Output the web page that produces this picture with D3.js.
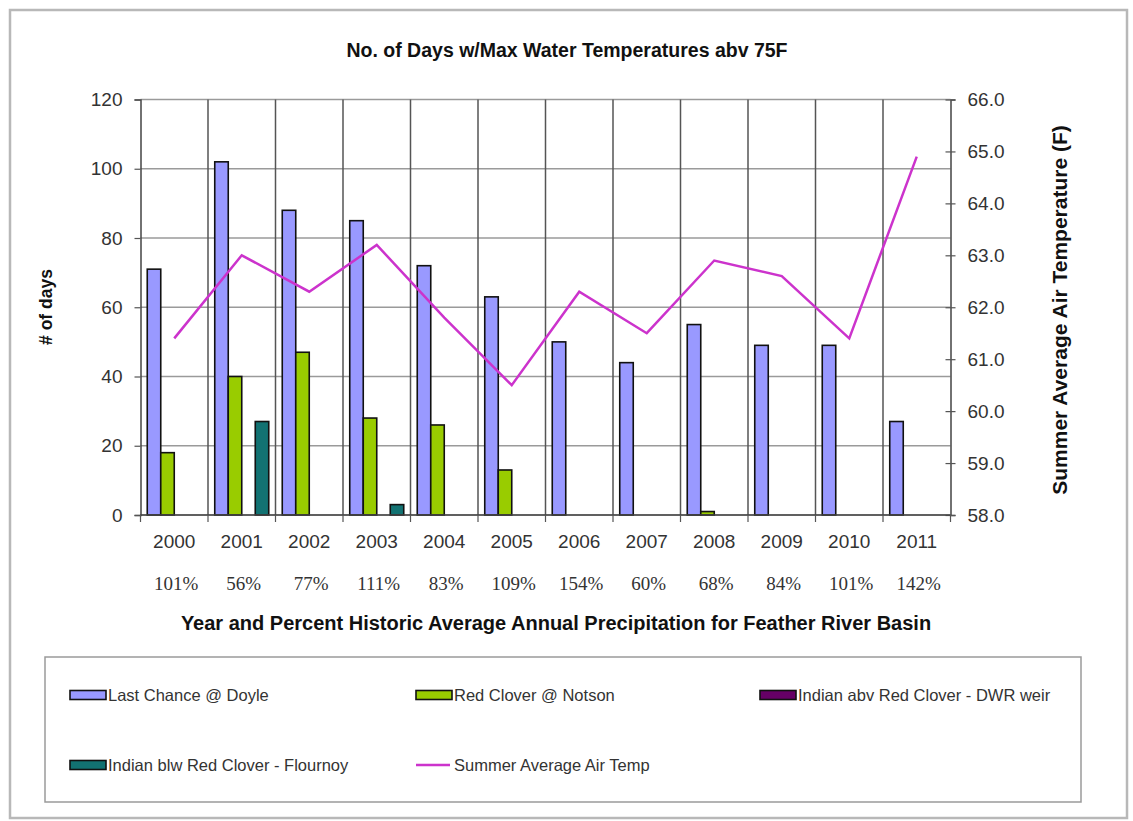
<!DOCTYPE html>
<html>
<head>
<meta charset="utf-8">
<script src="https://cdn.jsdelivr.net/npm/d3@7"></script>
<style>
  html, body { margin: 0; padding: 0; background: #fff; }
  svg { display: block; font-family: "Liberation Sans", Arial, sans-serif; }
</style>
</head>
<body>
<svg id="chart" width="1133" height="821"></svg>
<script>
// ---- data ----
const years = ["2000","2001","2002","2003","2004","2005","2006","2007","2008","2009","2010","2011"];
const precipPct = ["101%","56%","77%","111%","83%","109%","154%","60%","68%","84%","101%","142%"];
const lastChance = [71, 102, 88, 85, 72, 63, 50, 44, 55, 49, 49, 27];
const redClover = [18, 40, 47, 28, 26, 13, 0, 0, 1, 0, 0, 0];
const indianAbv = [0, 0, 0, 0, 0, 0, 0, 0, 0, 0, 0, 0];
const indianBlw = [0, 27, 0, 3, 0, 0, 0, 0, 0, 0, 0, 0];
const airTemp = [61.4, 63.0, 62.3, 63.2, 61.8, 60.5, 62.3, 61.5, 62.9, 62.6, 61.4, 64.9];
const leftTicks = [0, 20, 40, 60, 80, 100, 120];
const rightTicks = [58, 59, 60, 61, 62, 63, 64, 65, 66];
const seriesNames = ["Last Chance @ Doyle", "Red Clover @ Notson", "Indian abv Red Clover - DWR weir", "Indian blw Red Clover - Flournoy"];
const seriesColors = ["#9999ff", "#99cc00", "#660066", "#127272"];
const lineName = "Summer Average Air Temp";
const lineColor = "#cc33cc";

const barSeries = [lastChance, redClover, indianAbv, indianBlw];

// ---- layout ----
const svg = d3.select("#chart");
const L = 140.5, R = 950.5, T = 99.5, B = 515;

// outer frame
svg.append("rect").attr("x", 10).attr("y", 10).attr("width", 1117).attr("height", 808)
  .attr("fill", "#fff").attr("stroke", "#b8b8b8").attr("stroke-width", 2.5);

const x = d3.scaleBand().domain(years).range([L, R]).paddingInner(0).paddingOuter(0);
const xs = d3.scaleBand().domain(d3.range(barSeries.length)).range([0, x.bandwidth()]).paddingInner(0).paddingOuter(0.5);
const yL = d3.scaleLinear().domain([0, 120]).range([B, T]);
const yR = d3.scaleLinear().domain([58, 66]).range([B, T]);

// horizontal gridlines
svg.append("g").selectAll("line").data(leftTicks).join("line")
  .attr("x1", L).attr("x2", R).attr("y1", d => yL(d)).attr("y2", d => yL(d))
  .attr("stroke", "#9a9a9a").attr("stroke-width", 1.5);

// vertical category gridlines
const bounds = years.slice(1).map(y => x(y));
svg.append("g").selectAll("line").data(bounds).join("line")
  .attr("x1", d => d).attr("x2", d => d).attr("y1", T).attr("y2", B)
  .attr("stroke", "#555").attr("stroke-width", 1.5);

// bars
const gBars = svg.append("g");
barSeries.forEach((vals, si) => {
  gBars.append("g").selectAll("rect").data(vals.map((v, i) => ({v, i})).filter(d => d.v > 0)).join("rect")
    .attr("x", d => x(years[d.i]) + xs(si))
    .attr("width", xs.bandwidth())
    .attr("y", d => yL(d.v))
    .attr("height", d => yL(0) - yL(d.v))
    .attr("fill", seriesColors[si])
    .attr("stroke", "#111")
    .attr("stroke-width", 1.6);
});

// axes
const axL = d3.axisLeft(yL).tickValues(leftTicks).tickSize(6).tickPadding(12).tickFormat(d3.format("d"));
const gL = svg.append("g").attr("transform", `translate(${L},0)`).call(axL);
const axR = d3.axisRight(yR).tickValues(rightTicks).tickSize(5).tickPadding(12).tickFormat(d3.format(".1f"));
const gR = svg.append("g").attr("transform", `translate(${R},0)`).call(axR);
gR.selectAll(".tick line").attr("x1", -5);
const axB = d3.axisBottom(x).tickSize(0).tickPadding(20);
const gB = svg.append("g").attr("transform", `translate(0,${B})`).call(axB);

[gL, gR, gB].forEach(g => {
  g.select(".domain").attr("stroke", "#444").attr("stroke-width", 1.5);
  g.selectAll(".tick line").attr("stroke", "#555").attr("stroke-width", 1.2);
  g.selectAll(".tick text").attr("fill", "#333").attr("font-size", 19)
    .attr("font-family", "'Liberation Sans', Arial, sans-serif");
});
gB.select(".domain").attr("d", `M${L},0H${R}`);
// category boundary ticks below x axis
svg.append("g").selectAll("line").data([L, ...bounds, R]).join("line")
  .attr("x1", d => d).attr("x2", d => d).attr("y1", B).attr("y2", B + 7)
  .attr("stroke", "#555").attr("stroke-width", 1.2);

// line series
const line = d3.line().x((d, i) => x(years[i]) + x.bandwidth() / 2).y(d => yR(d));
svg.append("path").datum(airTemp).attr("d", line)
  .attr("fill", "none").attr("stroke", lineColor).attr("stroke-width", 2.5);

// precipitation labels
svg.append("g").selectAll("text").data(precipPct).join("text")
  .attr("x", (d, i) => x(years[i]) + x.bandwidth() / 2 + 2)
  .attr("y", 583).attr("dy", "0.35em")
  .attr("text-anchor", "middle")
  .attr("font-family", "'Liberation Serif', 'Times New Roman', serif")
  .attr("font-size", 19).attr("fill", "#333")
  .text(d => d);

// titles
svg.append("text").attr("x", 567).attr("y", 50).attr("dy", "0.35em").attr("text-anchor", "middle")
  .attr("font-weight", "bold").attr("font-size", 19.5).attr("fill", "#111")
  .text("No. of Days w/Max Water Temperatures abv 75F");
svg.append("text").attr("x", 556).attr("y", 623).attr("dy", "0.35em").attr("text-anchor", "middle")
  .attr("font-weight", "bold").attr("font-size", 20).attr("fill", "#111")
  .text("Year and Percent Historic Average Annual Precipitation for Feather River Basin");
svg.append("text").attr("transform", "translate(46,307) rotate(-90)").attr("dy", "0.35em")
  .attr("text-anchor", "middle").attr("font-weight", "bold").attr("font-size", 17.5).attr("fill", "#111")
  .text("# of days");
svg.append("text").attr("transform", "translate(1060,310) rotate(-90)").attr("dy", "0.35em")
  .attr("text-anchor", "middle").attr("font-weight", "bold").attr("font-size", 21).attr("fill", "#111")
  .text("Summer Average Air Temperature (F)");

// legend
svg.append("rect").attr("x", 45).attr("y", 657).attr("width", 1036).attr("height", 145)
  .attr("fill", "#fff").attr("stroke", "#9a9a9a").attr("stroke-width", 1.5);
const legendItems = [
  {name: seriesNames[0], color: seriesColors[0], type: "bar", x: 70, y: 695},
  {name: seriesNames[1], color: seriesColors[1], type: "bar", x: 416, y: 695},
  {name: seriesNames[2], color: seriesColors[2], type: "bar", x: 760, y: 695},
  {name: seriesNames[3], color: seriesColors[3], type: "bar", x: 70, y: 765},
  {name: lineName, color: lineColor, type: "line", x: 416, y: 765}
];
const lg = svg.append("g").selectAll("g").data(legendItems).join("g")
  .attr("transform", d => `translate(${d.x},${d.y})`);
lg.filter(d => d.type === "bar").append("rect")
  .attr("x", 0).attr("y", -4.5).attr("width", 36).attr("height", 9)
  .attr("fill", d => d.color).attr("stroke", "#111").attr("stroke-width", 1.6);
lg.filter(d => d.type === "line").append("line")
  .attr("x1", 0).attr("x2", 34).attr("y1", 0).attr("y2", 0)
  .attr("stroke", d => d.color).attr("stroke-width", 2.5);
lg.append("text").attr("x", 38).attr("dy", "0.35em")
  .attr("font-size", 16.5).attr("fill", "#333").text(d => d.name);
</script>
</body>
</html>
